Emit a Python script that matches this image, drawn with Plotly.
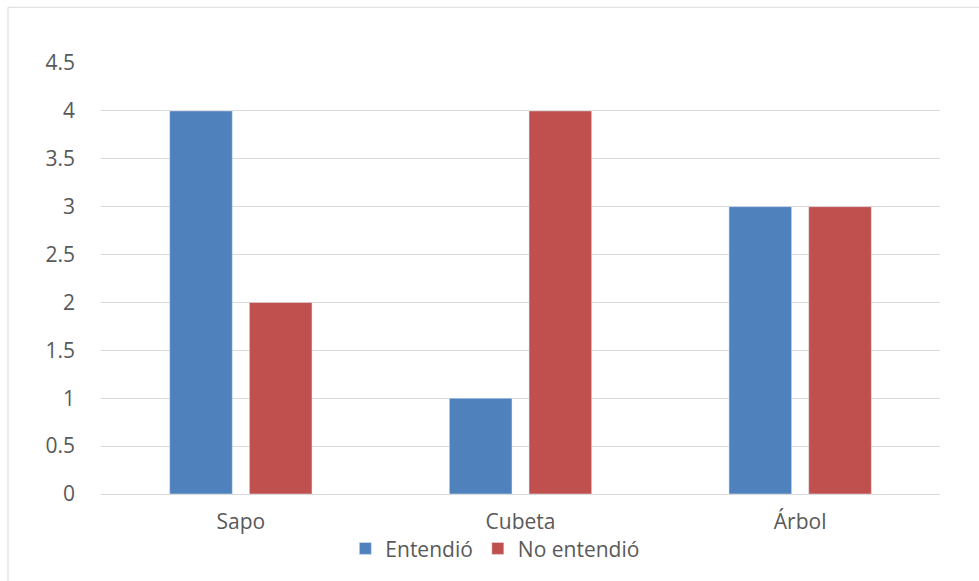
import plotly.graph_objects as go

categories = ["Sapo", "Cubeta", "Árbol"]
entendio = [4, 1, 3]
no_entendio = [2, 4, 3]
y_ticks = [0, 0.5, 1, 1.5, 2, 2.5, 3, 3.5, 4, 4.5]
y_labels = ["0", "0.5", "1", "1.5", "2", "2.5", "3", "3.5", "4", "4.5"]

W, H = 979, 581
L, R, T, B = 101, 39, 63, 85
pw, ph = W - L - R, H - T - B

fig = go.Figure()
fig.add_trace(go.Bar(name="Entendió", x=categories, y=entendio, marker_color="#4F81BD"))
fig.add_trace(go.Bar(name="No entendió", x=categories, y=no_entendio, marker_color="#C0504D"))

# chart frame
fig.add_shape(type="rect", xref="paper", yref="paper",
              x0=(8 - L) / pw, x1=(W + 10 - L) / pw,
              y0=(H - B - (H + 10)) / ph, y1=(H - B - 7) / ph,
              line=dict(color="#D9D9D9", width=1), fillcolor="rgba(0,0,0,0)", layer="below")

fig.update_layout(
    width=W, height=H,
    margin=dict(l=L, r=R, t=T, b=B),
    paper_bgcolor="white", plot_bgcolor="white",
    barmode="group", bargap=0.43, bargroupgap=0.214,
    font=dict(family="Open Sans", size=21, color="#595959"),
    xaxis=dict(showgrid=False, showline=False, ticks="", ticklabelstandoff=13,
               tickfont=dict(size=21, color="#595959")),
    yaxis=dict(range=[0, 4.5], tickvals=y_ticks, ticktext=y_labels, showgrid=True,
               gridcolor="#D9D9D9", gridwidth=1, zeroline=True, zerolinecolor="#D9D9D9",
               zerolinewidth=1, ticks="", ticklabelstandoff=25,
               tickfont=dict(size=21, color="#595959")),
    legend=dict(orientation="h", x=0.47, xanchor="center", y=-0.127, yanchor="middle",
                bgcolor="rgba(0,0,0,0)",
                font=dict(size=21, color="#595959"), itemwidth=30, traceorder="normal"),
    showlegend=True,
)

fig.write_html("out.html")
